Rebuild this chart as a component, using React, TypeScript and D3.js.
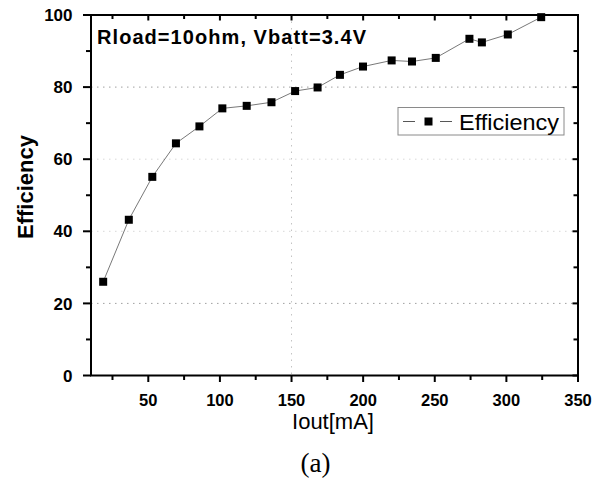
import React from "react";
import * as d3 from "d3";

// Output current [mA] and measured efficiency [%]
const iout = [18.5, 36.4, 52.8, 69.3, 85.7, 101.7, 118.7, 136, 152.5, 168.2, 183.8, 199.9, 219.9, 234.1, 250.7, 274.2, 282.9, 301, 324.3];
const efficiency = [26.0, 43.2, 55.1, 64.4, 69.1, 74.1, 74.8, 75.8, 78.9, 79.9, 83.4, 85.7, 87.4, 87.1, 88.1, 93.4, 92.4, 94.6, 99.4];

const xMajor = [50, 100, 150, 200, 250, 300, 350];
const xMinor = [25, 75, 125, 175, 225, 275, 325];
const yMajor = [0, 20, 40, 60, 80, 100];
const yMinor = [10, 30, 50, 70, 90];
const gridY = [20, 40, 60, 80];
const gridX = [150];

const W = 605;
const H = 482;
const L = 91, R = 578, T = 15, B = 375.5;

const sans = "'Liberation Sans', Arial, Helvetica, sans-serif";
const serif = "'Liberation Serif', 'Times New Roman', serif";

export default function App() {
  const x = d3.scaleLinear().domain([10, 350]).range([L, R]);
  const y = d3.scaleLinear().domain([0, 100]).range([B, T]);
  const pts: [number, number][] = iout.map((v, i) => [v, efficiency[i]]);
  const line = d3.line<[number, number]>().x((d) => x(d[0])).y((d) => y(d[1]));

  return (
    <svg
      width={W}
      height={H}
      viewBox={`0 0 ${W} ${H}`}
      style={{ position: "absolute", left: 0, top: 0, background: "#fff" }}
    >
      <rect x={0} y={0} width={W} height={H} fill="#fff" />

      {/* dotted grid */}
      {gridY.map((v) => (
        <line
          key={"gy" + v}
          x1={L}
          x2={R}
          y1={y(v)}
          y2={y(v)}
          stroke={v === 20 || v === 80 ? "#a0a0a0" : "#d8d8d8"}
          strokeWidth={1}
          strokeDasharray="1.5 4.5"
        />
      ))}
      {gridX.map((v) => (
        <line
          key={"gx" + v}
          x1={x(v)}
          x2={x(v)}
          y1={T}
          y2={B}
          stroke="#c4c4c4"
          strokeWidth={1}
          strokeDasharray="1.5 5"
        />
      ))}

      {/* data line and markers */}
      <path d={line(pts) || ""} fill="none" stroke="#555" strokeWidth={0.8} />
      {pts.map((d, i) => (
        <rect key={"m" + i} x={x(d[0]) - 4} y={y(d[1]) - 4} width={8} height={8} fill="#000" />
      ))}

      {/* frame */}
      <rect x={L} y={T} width={R - L} height={B - T} fill="none" stroke="#000" strokeWidth={2} />

      {/* bottom ticks (outward) and top ticks (inward) */}
      {xMajor.map((v) => (
        <g key={"xM" + v}>
          <line x1={x(v)} x2={x(v)} y1={B} y2={B + 6.5} stroke="#000" strokeWidth={2} />
          <line x1={x(v)} x2={x(v)} y1={T} y2={T + 5.5} stroke="#000" strokeWidth={2} />
          <text
            x={x(v)}
            y={406}
            textAnchor="middle"
            fontFamily={sans}
            fontWeight="bold"
            fontSize={16.5}
            fill="#000"
          >
            {v}
          </text>
        </g>
      ))}
      {xMinor.map((v) => (
        <g key={"xm" + v}>
          <line x1={x(v)} x2={x(v)} y1={B} y2={B + 4.5} stroke="#000" strokeWidth={2} />
          <line x1={x(v)} x2={x(v)} y1={T} y2={T + 4} stroke="#000" strokeWidth={2} />
        </g>
      ))}

      {/* left ticks (outward) and right ticks (inward) */}
      {yMajor.map((v) => (
        <g key={"yM" + v}>
          <line x1={L - 8} x2={L} y1={y(v)} y2={y(v)} stroke="#000" strokeWidth={2} />
          <line x1={R - 5.5} x2={R} y1={y(v)} y2={y(v)} stroke="#000" strokeWidth={2} />
          <text
            x={72.5}
            y={y(v)}
            dy="0.36em"
            textAnchor="end"
            fontFamily={sans}
            fontWeight="bold"
            fontSize={17}
            fill="#000"
          >
            {v}
          </text>
        </g>
      ))}
      {yMinor.map((v) => (
        <g key={"ym" + v}>
          <line x1={L - 5} x2={L} y1={y(v)} y2={y(v)} stroke="#000" strokeWidth={2} />
          <line x1={R - 4.5} x2={R} y1={y(v)} y2={y(v)} stroke="#000" strokeWidth={2} />
        </g>
      ))}

      {/* axis titles */}
      <text x={333} y={428.5} textAnchor="middle" fontFamily={sans} fontSize={22} fill="#000">
        Iout[mA]
      </text>
      <text
        transform="translate(32.5,187) rotate(-90)"
        textAnchor="middle"
        fontFamily={sans}
        fontWeight="bold"
        fontSize={22}
        fill="#000"
      >
        Efficiency
      </text>

      {/* condition note */}
      <text
        x={97}
        y={44}
        fontFamily={sans}
        fontWeight="bold"
        fontSize={20}
        textLength={269}
        lengthAdjust="spacing"
        fill="#000"
      >
        Rload=10ohm, Vbatt=3.4V
      </text>

      {/* legend */}
      <rect x={398} y={107.5} width={166} height={27.5} fill="#fff" stroke="#8a8a8a" strokeWidth={1} />
      <line x1={403} x2={415} y1={121.5} y2={121.5} stroke="#444" strokeWidth={0.9} />
      <line x1={440} x2={452} y1={121.5} y2={121.5} stroke="#444" strokeWidth={0.9} />
      <rect x={424.5} y={117.5} width={8} height={8} fill="#000" />
      <text
        x={459}
        y={129.5}
        fontFamily={sans}
        fontSize={21.5}
        textLength={100}
        lengthAdjust="spacingAndGlyphs"
        fill="#000"
      >
        Efficiency
      </text>

      {/* panel label */}
      <text x={315.5} y={472} textAnchor="middle" fontFamily={serif} fontSize={27} fill="#000">
        (a)
      </text>
    </svg>
  );
}
